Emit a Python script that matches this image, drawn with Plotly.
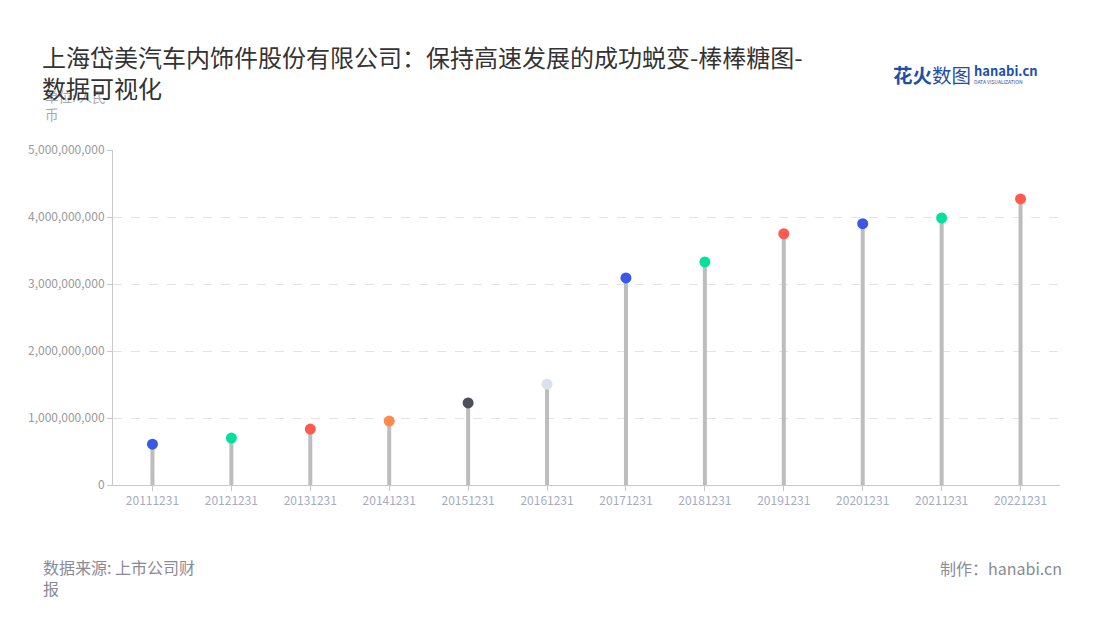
import plotly.graph_objects as go

dates = ["20111231", "20121231", "20131231", "20141231", "20151231", "20161231",
         "20171231", "20181231", "20191231", "20201231", "20211231", "20221231"]
revenue = [6.1e8, 7.0e8, 8.35e8, 9.55e8, 1.225e9, 1.505e9,
           3.09e9, 3.33e9, 3.75e9, 3.90e9, 3.985e9, 4.27e9]
dot_colors = ["#3a57e8", "#05e09c", "#ff5a4e", "#ff8a4c", "#4d4f5c", "#dcdfec",
              "#3a57e8", "#05e09c", "#ff5a4e", "#3a57e8", "#05e09c", "#ff5a4e"]
y_ticks = [0, 1e9, 2e9, 3e9, 4e9, 5e9]

FONT = "Noto Sans CJK SC"

# plot area in screen pixels (page has an ~8px body offset)
PX0, PX1, PY0, PY1 = 113, 1060, 150, 485
OFF = 8

fig = go.Figure()

for d, v in zip(dates, revenue):
    fig.add_trace(go.Scatter(x=[d, d], y=[0, v], mode="lines",
                             line=dict(color="#bdbdbd", width=4),
                             hoverinfo="skip", showlegend=False))
fig.add_trace(go.Scatter(x=dates, y=revenue, mode="markers",
                         marker=dict(size=11, color=dot_colors),
                         showlegend=False))

annotations = []


def txt(x, y, text, size, color, xanchor="left", yanchor="top"):
    annotations.append(dict(
        x=(x - PX0) / (PX1 - PX0), y=(PY1 - y) / (PY1 - PY0),
        xref="paper", yref="paper", text=text, showarrow=False,
        xanchor=xanchor, yanchor=yanchor,
        align="left" if xanchor == "left" else "right",
        font=dict(family=FONT, size=size, color=color)))


txt(43, 84, "单位: 人民<br>币", 13.5, "#a9a9b3")
txt(40, 37, "上海岱美汽车内饰件股份有限公司：保持高速发展的成功蜕变-棒棒糖图-<br>数据可视化", 24, "#333333")
txt(41, 553, "数据来源: 上市公司财<br>报", 16, "#8a8a96")
txt(1064, 554, "制作：hanabi.cn", 16, "#8a8a96", xanchor="right")
txt(891, 58, "<b>花火</b>数图", 19.5, "#1e4fa8")
txt(972, 59, "<b>hanabi.cn</b>", 13, "#1e4fa8")
txt(972, 76, "DATA VISUALIZATION", 5, "#1e4fa8")

fig.update_layout(
    width=1100, height=620,
    paper_bgcolor="white", plot_bgcolor="white",
    margin=dict(l=PX0 - OFF, r=1100 - (PX1 - OFF), t=PY0 - OFF, b=620 - (PY1 - OFF)),
    font=dict(family=FONT),
    annotations=annotations,
    xaxis=dict(
        type="category", range=[-0.5, 11.5],
        showline=True, linecolor="#c8c8c8", linewidth=1,
        ticks="outside", ticklen=5, tickcolor="#c8c8c8",
        tickfont=dict(size=12, color="#a6abc0"),
        showgrid=False, zeroline=False,
    ),
    yaxis=dict(
        range=[0, 5e9], tickvals=y_ticks, tickformat=",d",
        showline=True, linecolor="#c8c8c8", linewidth=1,
        ticks="outside", ticklen=5, tickcolor="#c8c8c8",
        tickfont=dict(size=12, color="#9a9a9a"),
        showgrid=True, gridcolor="#e3e3e3", griddash="dash", gridwidth=1,
        zeroline=False,
    ),
)

fig.write_html("out.html")
